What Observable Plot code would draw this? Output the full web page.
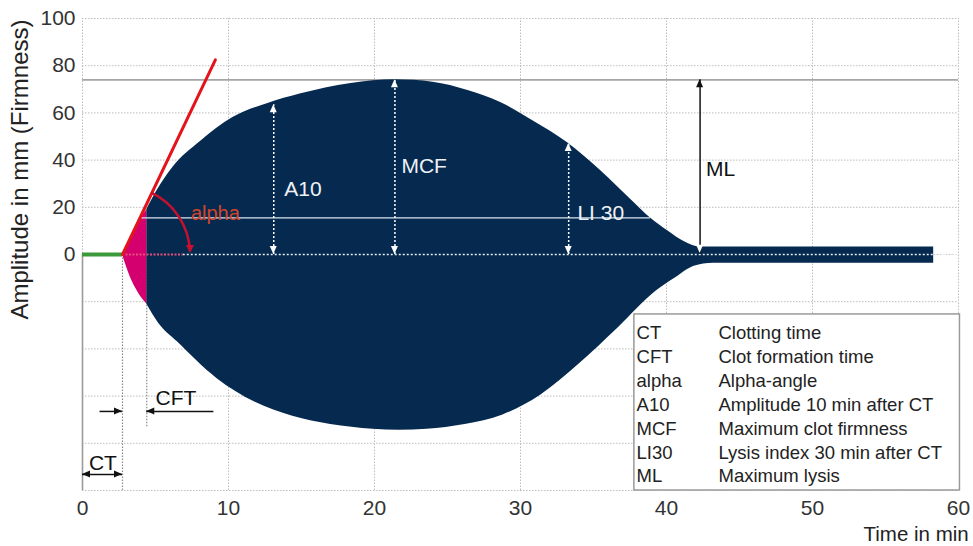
<!DOCTYPE html>
<html><head><meta charset="utf-8">
<script src="https://cdn.jsdelivr.net/npm/d3@7"></script>
<script src="https://cdn.jsdelivr.net/npm/@observablehq/plot@0.6"></script>
<style>body{margin:0;background:#fff}</style>
</head><body><div id="chart"></div>
<script>
// ---- data ----
const upperTime = [2.74, 3.3, 3.8, 4.4, 5.1, 6.2, 8.1, 10.3, 12.7, 14.9, 18.4, 21.4, 24.0, 26.4, 28.6, 30.9, 33.2, 35.5, 37.7, 38.9, 40.1, 41.2, 42.3, 58.3];
const upperAmp  = [0, 7, 13, 19, 27, 37, 48, 58, 64, 68, 72.5, 74, 73, 69.5, 64.5, 56.5, 47.5, 35.5, 22.5, 15.5, 10, 5.5, 3.2, 3.2];
const lowerTime = [2.74, 3.3, 3.8, 4.4, 5.2, 6.5, 9.2, 11.8, 14.4, 17.0, 19.9, 21.7, 23.6, 26.2, 28.8, 31.4, 34.0, 36.7, 39.3, 40.6, 41.9, 43.2, 58.3];
const lowerAmp  = [0, -10, -16, -21, -29, -37, -52.5, -62.5, -68.5, -72, -74, -74.5, -74, -72, -68, -59.5, -46.5, -31, -15.5, -10, -5, -3.7, -3.7];
const xTicks = [0, 10, 20, 30, 40, 50, 60];
const yTicks = [0, 20, 40, 60, 80, 100];
const yGrid = [-100, -80, -60, -40, -20, 0, 20, 40, 60, 80, 100];
const CT = 2.74, CFT = 4.4, MCF = 74, ML_TIME = 42.3, ALPHA_LEVEL = 15.5;
const tangentTime = [2.74, 9.1];
const tangentAmp = [0, 82.5];
const measureNames = ["A10", "MCF", "LI 30"];
const measureTimes = [13.1, 21.4, 33.3];
const measureAmps = [63.5, 74, 47];
const legendAbbr = ["CT", "CFT", "alpha", "A10", "MCF", "LI30", "ML"];
const legendDesc = ["Clotting time", "Clot formation time", "Alpha-angle", "Amplitude 10 min after CT", "Maximum clot firmness", "Lysis index 30 min after CT", "Maximum lysis"];

const navy = "#062a4f", magenta = "#d4006f", red = "#e3141b";
const font = "'Liberation Sans', Arial, sans-serif";

const upper = upperTime.map((t, i) => ({t, a: upperAmp[i]}));
const lower = lowerTime.map((t, i) => ({t, a: lowerAmp[i]}));
const measures = measureNames.map((n, i) => ({n, t: measureTimes[i], a: measureAmps[i]}));
const tangent = tangentTime.map((t, i) => ({t, a: tangentAmp[i]}));

function heads(list) {
  return (index, {x, y}) => {
    const g = d3.create("svg:g");
    const dirs = {up: [0, -1], down: [0, 1], left: [-1, 0], right: [1, 0]};
    for (const h of list) {
      const px = x(h.t), py = y(h.a);
      const [ux, uy] = dirs[h.dir];
      const L = h.len || 8, w = h.w || 3.5;
      const bx = px - ux * L, by = py - uy * L, nx = -uy, ny = ux;
      g.append("path")
        .attr("d", `M${px},${py}L${bx + nx * w},${by + ny * w}L${bx - nx * w},${by - ny * w}Z`)
        .attr("fill", h.fill);
    }
    return g.node();
  };
}

const arcMark = (index, {x, y}) => {
  const cx = x(tangentTime[0]), cy = y(tangentAmp[0]);
  const ex = x(tangentTime[1]), ey = y(tangentAmp[1]);
  const ang = Math.atan2(cy - ey, ex - cx);
  const r = 68;
  const p = d3.path();
  p.arc(cx, cy, r, -ang, -0.04, false);
  const g = d3.create("svg:g");
  g.append("path").attr("d", p.toString()).attr("fill", "none").attr("stroke", "#c8102e").attr("stroke-width", 2.5);
  const tx = cx + r, ty = cy - 1;
  g.append("path").attr("d", `M${tx},${ty}L${tx - 4},${ty - 8}L${tx + 4},${ty - 8}Z`).attr("fill", "#c8102e");
  return g.node();
};

const grid = {stroke: "#bdbdbd", strokeDasharray: "1.5,1.5", strokeWidth: 1};

const chart = Plot.plot({
  width: 973, height: 546,
  marginLeft: 82, marginRight: 15, marginTop: 18, marginBottom: 56,
  style: {fontFamily: font, fontSize: "21px", color: "#333", background: "#fff", overflow: "visible"},
  x: {domain: [0, 60]},
  y: {domain: [-100, 100]},
  marks: [
    Plot.ruleX(xTicks, {y1: -100, y2: 100, ...grid}),
    Plot.ruleY(yGrid, {x1: 0, x2: 60, ...grid}),
    Plot.ruleY([MCF], {x1: 0, x2: 60, stroke: "#a6a6a6", strokeWidth: 1.6}),
    Plot.ruleX([0], {y1: -100, y2: 0, stroke: "#9a9a9a", strokeWidth: 1.6}),
    Plot.ruleX([CT], {y1: -100, y2: 0, stroke: "#8a8a8a", strokeDasharray: "1.5,1.5", strokeWidth: 1.2}),
    Plot.ruleX([CFT], {y1: -73, y2: 0, stroke: "#8a8a8a", strokeDasharray: "1.5,1.5", strokeWidth: 1.2}),
    // envelope
    Plot.areaY(upper.filter(d => d.t >= CFT), {x: "t", y1: 0, y2: "a", curve: "monotone-x", fill: navy}),
    Plot.areaY(lower.filter(d => d.t >= CFT), {x: "t", y1: 0, y2: "a", curve: "monotone-x", fill: navy}),
    Plot.areaY(upper.filter(d => d.t <= CFT), {x: "t", y1: 0, y2: "a", curve: "monotone-x", fill: magenta}),
    Plot.areaY(lower.filter(d => d.t <= CFT), {x: "t", y1: 0, y2: "a", curve: "monotone-x", fill: magenta}),
    // baseline markers
    Plot.ruleY([0], {x1: 6.9, x2: 60, stroke: "#e8eef5", strokeDasharray: "2,2", strokeWidth: 1.5}),
    Plot.ruleY([0], {x1: CT, x2: 6.9, stroke: "#e4507a", strokeDasharray: "2,1.5", strokeWidth: 2}),
    Plot.ruleY([0], {x1: 0, x2: CT, stroke: "#3a9a3a", strokeWidth: 4}),
    Plot.ruleY([ALPHA_LEVEL], {x1: 4.0, x2: 38.9, stroke: "#d9e4ef", strokeWidth: 1.2}),
    // alpha tangent and arc
    Plot.line(tangent, {x: "t", y: "a", stroke: red, strokeWidth: 3}),
    arcMark,
    Plot.text(["alpha"], {x: 9.1, y: 17.5, fill: "#d2452a", fontSize: 20}),
    // measurement arrows
    Plot.ruleX(measures, {x: "t", y1: 0, y2: "a", stroke: "#ffffff", strokeDasharray: "2,2", strokeWidth: 1.5}),
    Plot.ruleX([ML_TIME], {y1: 0, y2: MCF, stroke: "#222", strokeWidth: 1.6}),
    Plot.ruleY([-93.2], {x1: 0, x2: CT, stroke: "#111", strokeWidth: 1.5}),
    Plot.ruleY([-66.5], {x1: 1.2, x2: CT, stroke: "#111", strokeWidth: 1.5}),
    Plot.ruleY([-66.5], {x1: CFT, x2: 9.0, stroke: "#111", strokeWidth: 1.5}),
    heads([
      ...measures.flatMap(m => [{t: m.t, a: m.a, dir: "up", fill: "#fff"}, {t: m.t, a: 0, dir: "down", fill: "#fff"}]),
      {t: ML_TIME, a: MCF, dir: "up", fill: "#111"},
      {t: ML_TIME, a: 0.5, dir: "down", fill: "#fff"},
      {t: 0, a: -93.2, dir: "left", fill: "#111"},
      {t: CT, a: -93.2, dir: "right", fill: "#111"},
      {t: CT, a: -66.5, dir: "right", fill: "#111"},
      {t: CFT, a: -66.5, dir: "left", fill: "#111"}
    ]),
    Plot.text(measures, {x: d => d.t + [2.0, 2.0, 2.2][measureNames.indexOf(d.n)], y: d => [27.6, 37.4, 17.5][measureNames.indexOf(d.n)], text: "n", fill: "#eef2f7", fontSize: 21}),
    Plot.text(["ML"], {x: 43.7, y: 36, fill: "#111", fontSize: 21}),
    Plot.text(["CT"], {x: 1.4, y: -88.5, fill: "#111", fontSize: 21}),
    Plot.text(["CFT"], {x: 6.4, y: -61, fill: "#111", fontSize: 21}),
    // legend box
    Plot.rect([0], {x1: 37.8, x2: 60.1, y1: -25.4, y2: -100, fill: "#fff", stroke: "#9a9a9a", strokeWidth: 1.5}),
    Plot.text(legendAbbr, {x: 37.95, y: (d, i) => -33.5 - i * 10.1, textAnchor: "start", fill: "#222", fontSize: 18.5}),
    Plot.text(legendDesc, {x: 43.56, y: (d, i) => -33.5 - i * 10.1, textAnchor: "start", fill: "#222", fontSize: 18.5}),
    // axes
    Plot.axisX(xTicks, {tickSize: 0, tickPadding: 10, label: null, fontSize: 21}),
    Plot.axisY(yTicks, {tickSize: 0, tickPadding: 7, label: null, fontSize: 21}),
    Plot.text(["Time in min"], {x: 60.7, y: -118.6, textAnchor: "end", fill: "#222", fontSize: 20.5}),
    Plot.text(["Amplitude in mm (Firmness)"], {x: -4.25, y: 36, rotate: -90, fill: "#222", fontSize: 24})
  ]
});
document.getElementById("chart").appendChild(chart);
</script>
</body></html>
